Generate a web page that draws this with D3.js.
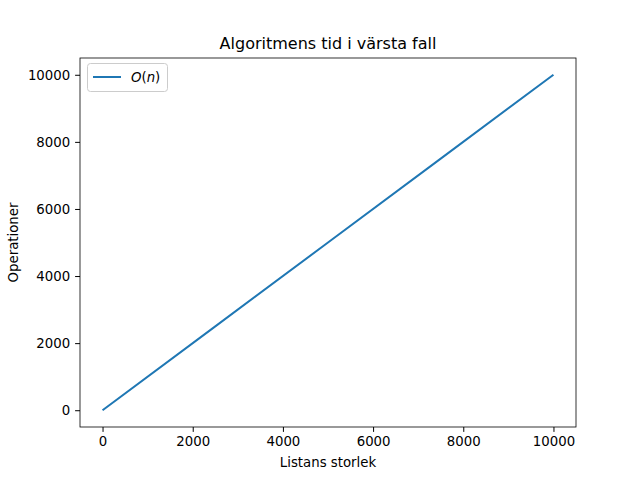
<!DOCTYPE html>
<html><head><meta charset="utf-8">
<script src="https://cdn.jsdelivr.net/npm/d3@7"></script>
<style>body{margin:0;background:#fff}text{font-family:"DejaVu Sans",sans-serif}</style>
</head><body><svg id="c" width="640" height="480"></svg>
<script>
const xValues=[0,2500,5000,7500,10000];
const yValues=[0,2500,5000,7500,10000];
const xTicks=[0,2000,4000,6000,8000,10000];
const yTicks=[0,2000,4000,6000,8000,10000];
const title="Algoritmens tid i värsta fall", xLabel="Listans storlek", yLabel="Operationer";
const L=80,R=576,T=58,B=427;
const svg=d3.select("#c");
const x=d3.scaleLinear().domain([-500,10500]).range([L,R]);
const y=d3.scaleLinear().domain([-500,10500]).range([B,T]);
const gx=svg.append("g").attr("transform",`translate(0,${B})`).call(d3.axisBottom(x).tickValues(xTicks).tickSize(4.9).tickPadding(4.9).tickFormat(d3.format("d")));
const gy=svg.append("g").attr("transform",`translate(${L},0)`).call(d3.axisLeft(y).tickValues(yTicks).tickSize(4.9).tickPadding(4.9).tickFormat(d3.format("d")));
[gx,gy].forEach(g=>{g.select(".domain").remove();g.selectAll("text").attr("font-size",13.3).attr("font-family","DejaVu Sans").attr("fill","#000");g.selectAll("line").attr("stroke","#000");});
svg.append("rect").attr("x",L).attr("y",T).attr("width",R-L).attr("height",B-T).attr("fill","none").attr("stroke","#000").attr("stroke-width",0.8);
svg.append("path").datum(xValues.map((v,i)=>[v,yValues[i]])).attr("fill","none").attr("stroke","#1f77b4").attr("stroke-width",2).attr("d",d3.line().x(d=>x(d[0])).y(d=>y(d[1])));
svg.append("text").attr("x",(L+R)/2).attr("y",T-9).attr("text-anchor","middle").attr("font-size",16).text(title);
svg.append("text").attr("x",(L+R)/2).attr("y",467).attr("text-anchor","middle").attr("font-size",13.3).text(xLabel);
svg.append("text").attr("transform",`translate(18,${(T+B)/2}) rotate(-90)`).attr("text-anchor","middle").attr("font-size",13.3).text(yLabel);
const lg=svg.append("g");
lg.append("rect").attr("x",87.5).attr("y",63.5).attr("width",80).attr("height",28).attr("rx",3).attr("fill","#fff").attr("stroke","#ccc");
lg.append("line").attr("x1",93).attr("x2",121).attr("y1",77).attr("y2",77).attr("stroke","#1f77b4").attr("stroke-width",2);
const t=lg.append("text").attr("x",131).attr("y",82).attr("font-size",13.3);
t.append("tspan").attr("font-style","italic").text("O");
t.append("tspan").text("(");
t.append("tspan").attr("font-style","italic").text("n");
t.append("tspan").text(")");
</script></body></html>
